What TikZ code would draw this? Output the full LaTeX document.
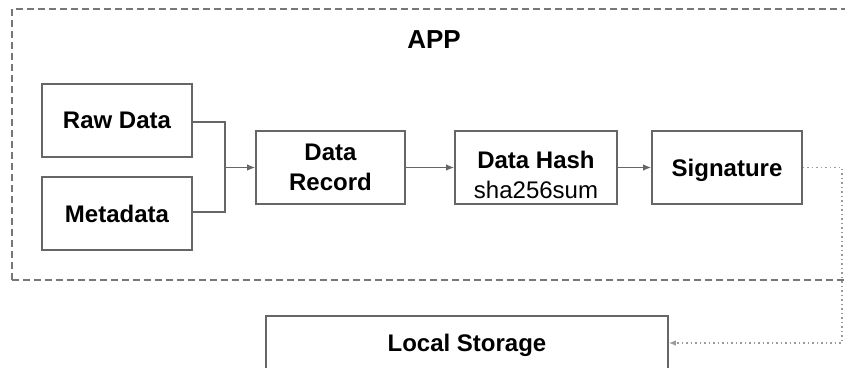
\documentclass[tikz,border=0pt]{standalone}
\usepackage{fontspec}
\setmainfont{Liberation Sans}
\usetikzlibrary{arrows.meta}
\definecolor{boxline}{HTML}{666666}
\definecolor{frameline}{HTML}{777777}
\definecolor{dotline}{HTML}{9A9A9A}
\tikzset{
  blockfont/.style={font=\fontsize{24}{30}\selectfont\bfseries, align=center},
  block/.style={draw=boxline, line width=1.6pt, fill=white, inner sep=0pt, blockfont},
  oneline/.style={text depth=0pt},
  conn/.style={draw=boxline, line width=1.4pt, -{Latex[length=8pt,width=6.5pt]}},
  joinline/.style={draw=boxline, line width=1.4pt},
  frame/.style={draw=frameline, line width=1.3pt, dash pattern=on 7pt off 4pt},
  dotconn/.style={draw=dotline, line width=1.3pt, dash pattern=on 1.5pt off 3pt,
    -{Latex[length=7pt,width=5.5pt]}},
}
\begin{document}
\begin{tikzpicture}[x=1pt,y=-1pt]
\useasboundingbox (0,0) rectangle (845,367);
\begin{scope}
\clip (0,0) rectangle (845,367);
% application boundary
\draw[frame] (12,280) -- (12,9) -- (880,9);
\draw[frame] (12,280) -- (880,280);
% blocks
\node[block, oneline, minimum width=150pt, minimum height=73pt] (raw) at (117,120.5) {Raw Data};
\node[block, oneline, minimum width=150pt, minimum height=73pt] (meta) at (117,213.5) {Metadata};
\node[block, minimum width=149pt, minimum height=73pt] (rec) at (330.5,167.5) {Data\\Record};
\node[block, minimum width=162pt, minimum height=73pt] (hash) at (536,167.5) {};
\node[blockfont] (hashtxt) at (536,175) {Data Hash\\{\mdseries sha256sum}};
\node[block, oneline, minimum width=150pt, minimum height=73pt] (sig) at (727,167.5) {Signature};
\node[block, minimum width=402pt, minimum height=80pt] (store) at (467,356) {};
\node[blockfont, oneline] (storetxt) at (467,343) {Local Storage};
\node[font=\fontsize{26}{30}\selectfont\bfseries, text depth=0pt] (app) at (434,40) {APP};
% merge of the two inputs
\coordinate (mj) at (225,167.5);
\draw[joinline] (raw.east |- 0,122) -| (mj);
\draw[joinline] (meta.east |- 0,212) -| (mj);
\draw[conn] (mj) -- (rec.west);
\draw[conn] (rec.east) -- (hash.west);
\draw[conn] (hash.east) -- (sig.west);
% signature sent to storage
\coordinate (c1) at (842,167.5);
\coordinate (c2) at (842,343);
\draw[dotconn] (sig.east) -- (c1) -- (c2) -- (store.east |- c2);
\end{scope}
\end{tikzpicture}
\end{document}
